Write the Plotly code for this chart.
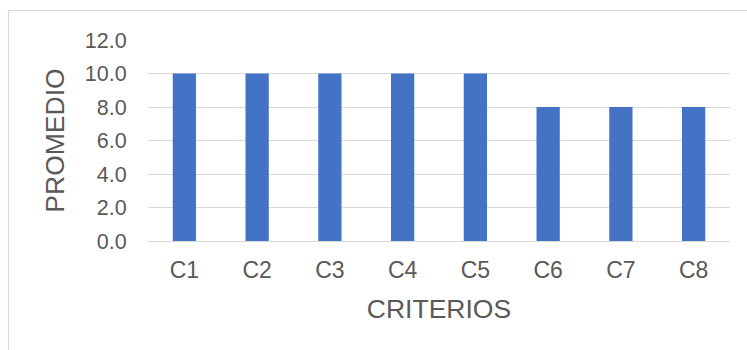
import plotly.graph_objects as go

# Datos del gráfico
criterios = ["C1", "C2", "C3", "C4", "C5", "C6", "C7", "C8"]
promedio = [10.0, 10.0, 10.0, 10.0, 10.0, 8.0, 8.0, 8.0]
y_ticks = [0, 2, 4, 6, 8, 10, 12]

W, H = 747, 350
ml, mr, mt, mb = 148, 17, 40, 109
pw, ph = W - ml - mr, H - mt - mb

TEXT = "#595959"
GRID = "#D9D9D9"
FONT = "Liberation Sans, Arial, sans-serif"

fig = go.Figure(
    go.Bar(
        x=criterios,
        y=promedio,
        marker=dict(color="#4472C4", line=dict(width=0)),
        width=0.32,
    )
)

# Marco exterior del área del gráfico (px -> coordenadas de papel)
def px_x(v):
    return (v - ml) / pw

def px_y(v):
    return 1 - (v - mt) / ph

fig.add_shape(
    type="rect", xref="paper", yref="paper",
    x0=px_x(8.5), x1=px_x(W + 20), y0=px_y(H + 20), y1=px_y(10.5),
    line=dict(color="#D9D9D9", width=1.2), fillcolor="rgba(0,0,0,0)",
    layer="below",
)

fig.update_layout(
    width=W, height=H,
    margin=dict(l=ml, r=mr, t=mt, b=mb),
    paper_bgcolor="white", plot_bgcolor="white",
    font=dict(family=FONT, color=TEXT),
    showlegend=False,
    xaxis=dict(
        title=dict(text="CRITERIOS", font=dict(size=26.5, color=TEXT), standoff=17),
        tickfont=dict(size=23, color=TEXT),
        showgrid=False, showline=False, zeroline=False,
        ticks="outside", ticklen=8, tickcolor="rgba(0,0,0,0)",
    ),
    yaxis=dict(
        title=dict(text="PROMEDIO", font=dict(size=26.5, color=TEXT), standoff=12),
        range=[0, 12],
        tickvals=y_ticks,
        ticktext=[f"{v:.1f}" for v in y_ticks],
        tickfont=dict(size=21.5, color=TEXT),
        showgrid=True, gridcolor=GRID, gridwidth=1.2,
        zeroline=True, zerolinecolor=GRID, zerolinewidth=1.2,
        showline=False,
        ticks="outside", ticklen=16, tickcolor="rgba(0,0,0,0)",
    ),
)

fig.write_html("out.html")
